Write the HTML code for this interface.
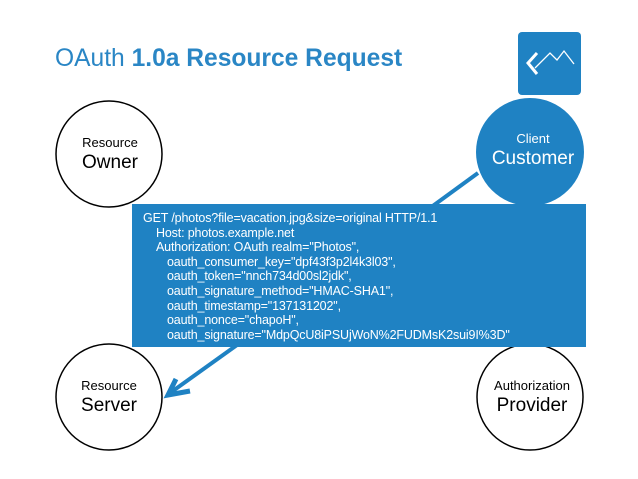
<!DOCTYPE html>
<html><head><style>
body{margin:0;width:638px;height:479px;background:#fff;position:relative;overflow:hidden;font-family:"Liberation Sans",sans-serif}
.t{position:absolute;left:55px;top:45px;font-size:24.6px;line-height:28px;color:#2a86c5}
.box{position:absolute;left:132px;top:204px;width:454px;height:143px;background:#1f82c3;color:#fff;font-size:12.5px;line-height:14.6px;box-sizing:border-box;padding:7px 0 0 11px;letter-spacing:-0.15px}
.l1{padding-left:13px}.l2{padding-left:24px}
</style></head><body>
<div class="t">OAuth <b>1.0a Resource Request</b></div>
<svg width="638" height="479" style="position:absolute;left:0;top:0">
<rect x="518" y="32" width="63" height="63" rx="4" fill="#1f82c3"/>
<polyline points="537,53 528,63 537,74" fill="none" stroke="#fff" stroke-width="3"/>
<polyline points="535,68 550,53 557,60 564,51 574,64" fill="none" stroke="#fff" stroke-width="1.3"/>
<circle cx="109" cy="154" r="53" fill="#fff" stroke="#000" stroke-width="1.5"/>
<circle cx="530" cy="152" r="54" fill="#1f82c3"/>
<circle cx="109" cy="397" r="53" fill="#fff" stroke="#000" stroke-width="1.5"/>
<circle cx="530" cy="397" r="53" fill="#fff" stroke="#000" stroke-width="1.5"/>
<line x1="478" y1="173" x2="430" y2="208" stroke="#1f82c3" stroke-width="4"/>
<line x1="237" y1="345" x2="170" y2="393" stroke="#1f82c3" stroke-width="4"/>
<polyline points="176,379 168,395 190,391" fill="none" stroke="#1f82c3" stroke-width="5"/>
<g font-family="Liberation Sans,sans-serif" text-anchor="middle">
<text x="110" y="147" font-size="13">Resource</text><text x="110" y="168" font-size="19">Owner</text>
<text x="533" y="143" font-size="13" fill="#fff">Client</text><text x="533" y="164" font-size="19" fill="#fff">Customer</text>
<text x="109" y="390" font-size="13">Resource</text><text x="109" y="411" font-size="19">Server</text>
<text x="532" y="390" font-size="13">Authorization</text><text x="532" y="411" font-size="19">Provider</text>
</g></svg>
<div class="box">GET /photos?file=vacation.jpg&amp;size=original HTTP/1.1<br>
<div class="l1">Host: photos.example.net<br>Authorization: OAuth realm="Photos",</div>
<div class="l2">oauth_consumer_key="dpf43f3p2l4k3l03",<br>oauth_token="nnch734d00sl2jdk",<br>oauth_signature_method="HMAC-SHA1",<br>oauth_timestamp="137131202",<br>oauth_nonce="chapoH",<br>oauth_signature="MdpQcU8iPSUjWoN%2FUDMsK2sui9I%3D"</div></div>
</body></html>
